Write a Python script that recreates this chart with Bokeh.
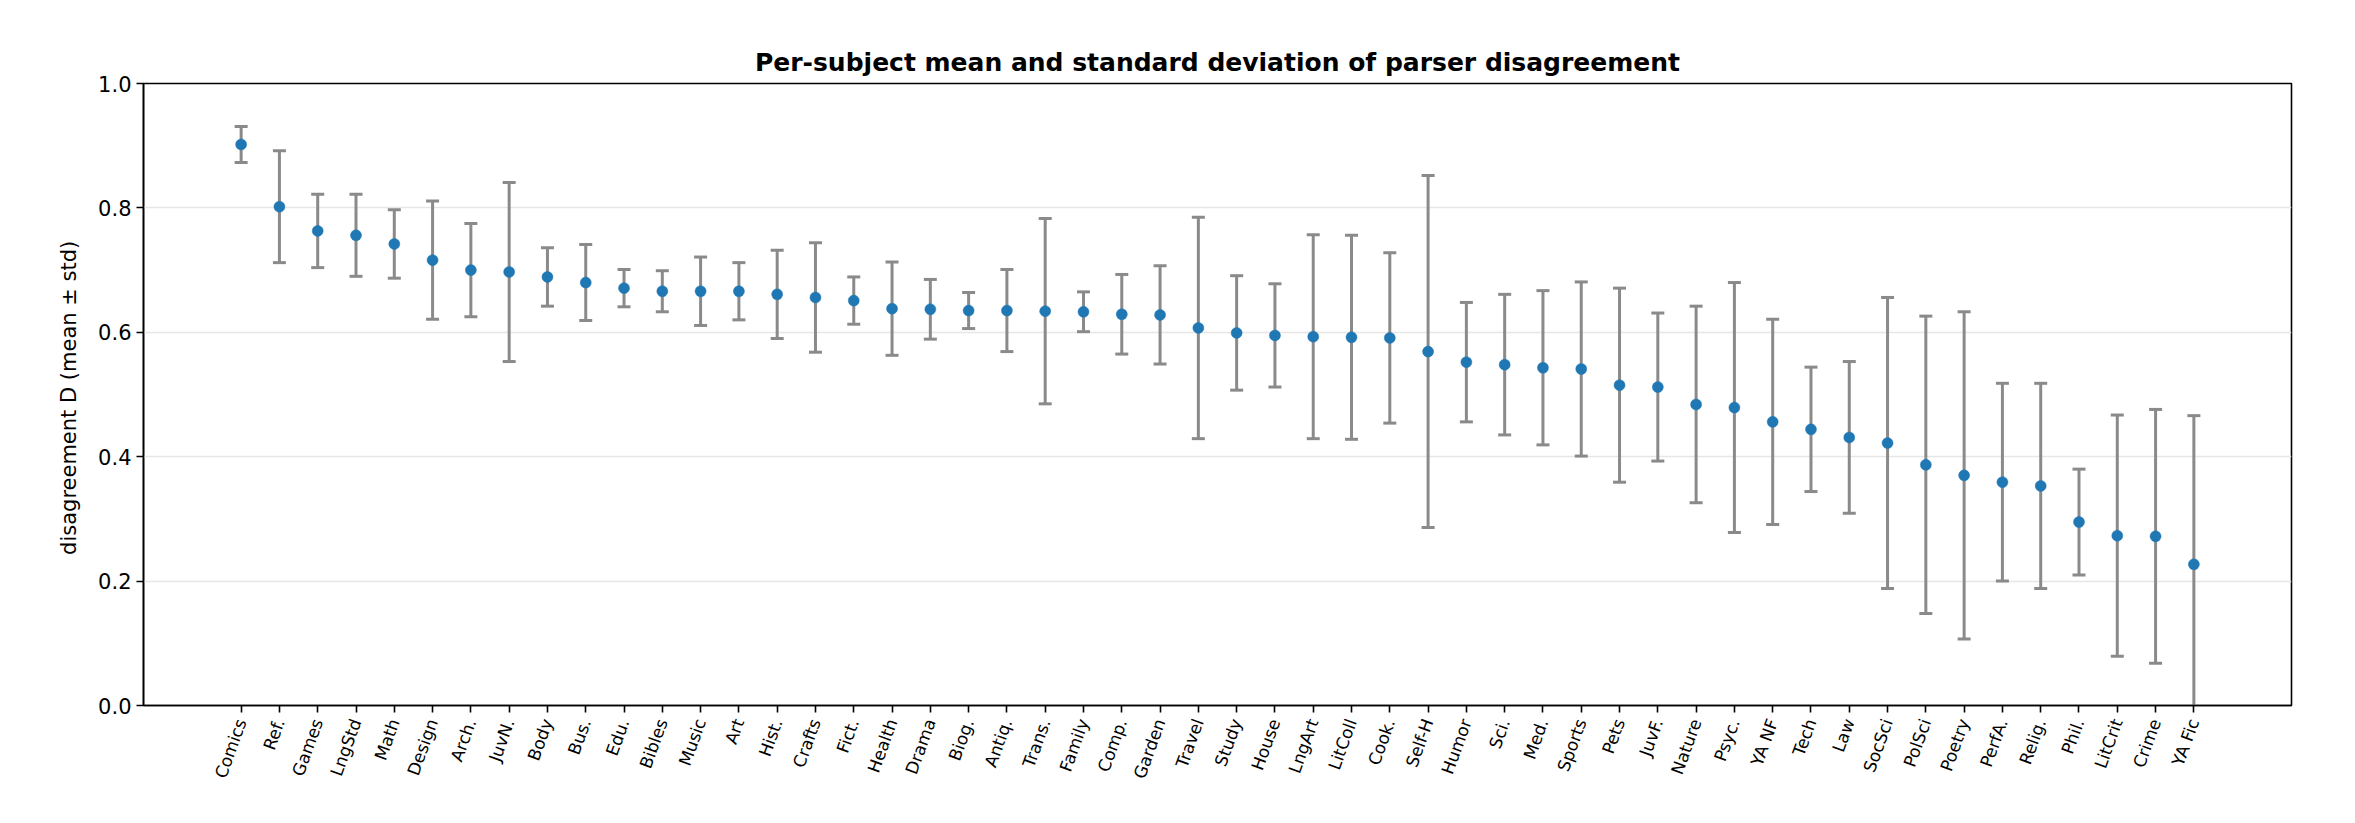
import math
from bokeh.plotting import figure
from bokeh.models import Range1d, FixedTicker, PrintfTickFormatter, ColumnDataSource
from bokeh.embed import file_html
from bokeh.resources import INLINE

subjects = ["Comics", "Ref.", "Games", "LngStd", "Math", "Design", "Arch.", "JuvN.", "Body", "Bus.",
            "Edu.", "Bibles", "Music", "Art", "Hist.", "Crafts", "Fict.", "Health", "Drama", "Biog.",
            "Antiq.", "Trans.", "Family", "Comp.", "Garden", "Travel", "Study", "House", "LngArt", "LitColl",
            "Cook.", "Self-H", "Humor", "Sci.", "Med.", "Sports", "Pets", "JuvF.", "Nature", "Psyc.",
            "YA NF", "Tech", "Law", "SocSci", "PolSci", "Poetry", "PerfA.", "Relig.", "Phil.", "LitCrit",
            "Crime", "YA Fic"]

means = [0.902, 0.802, 0.763, 0.756, 0.742, 0.716, 0.700, 0.697, 0.689, 0.680,
         0.671, 0.666, 0.666, 0.666, 0.661, 0.656, 0.651, 0.638, 0.637, 0.635,
         0.635, 0.634, 0.633, 0.629, 0.628, 0.607, 0.599, 0.595, 0.593, 0.592,
         0.591, 0.569, 0.552, 0.548, 0.543, 0.541, 0.515, 0.512, 0.484, 0.479,
         0.456, 0.444, 0.431, 0.422, 0.387, 0.370, 0.359, 0.353, 0.295, 0.273,
         0.272, 0.227]

stds = [0.029, 0.090, 0.059, 0.066, 0.055, 0.095, 0.075, 0.144, 0.047, 0.061,
        0.030, 0.033, 0.055, 0.046, 0.071, 0.088, 0.038, 0.075, 0.048, 0.029,
        0.066, 0.149, 0.032, 0.064, 0.079, 0.178, 0.092, 0.083, 0.164, 0.164,
        0.137, 0.283, 0.096, 0.113, 0.124, 0.140, 0.156, 0.119, 0.158, 0.201,
        0.165, 0.100, 0.122, 0.234, 0.239, 0.263, 0.159, 0.165, 0.085, 0.194,
        0.204, 0.239]

y_ticks = [0.0, 0.2, 0.4, 0.6, 0.8, 1.0]

title_text = "Per-subject mean and standard deviation of parser disagreement"
y_label = "disagreement D  (mean \u00b1 std)"

xs = list(range(len(subjects)))
src = ColumnDataSource(dict(
    x=xs,
    mean=means,
    upper=[m + s for m, s in zip(means, stds)],
    lower=[m - s for m, s in zip(means, stds)],
))

FONT = "DejaVu Sans"

p = figure(width=2338, height=806, output_backend="svg", toolbar_location=None,
           x_range=Range1d(-2.55, len(subjects) - 1 + 2.55), y_range=Range1d(0, 1),
           min_border_left=143, min_border_right=47, min_border_top=83, min_border_bottom=101)

p.background_fill_color = "white"
p.border_fill_color = "white"
p.outline_line_color = "black"
p.outline_line_width = 1.6

# title
p.title.text = title_text
p.title.align = "center"
p.title.text_font = FONT
p.title.text_font_style = "bold"
p.title.text_font_size = "25px"
p.title.text_color = "black"
p.title.standoff = 13

# grid
p.xgrid.visible = False
p.ygrid.ticker = FixedTicker(ticks=y_ticks)
p.ygrid.grid_line_color = "#e6e6e6"
p.ygrid.grid_line_width = 1.4

# x axis
xa = p.xaxis[0]
xa.ticker = FixedTicker(ticks=xs)
xa.major_label_overrides = {i: s for i, s in enumerate(subjects)}
xa.major_label_orientation = math.radians(70)
xa.major_label_text_font = FONT
xa.major_label_text_font_size = "17px"
xa.major_label_text_color = "black"
xa.major_label_standoff = 7
xa.major_tick_out = 7
xa.major_tick_in = 0
xa.minor_tick_out = 0
xa.minor_tick_in = 0
xa.axis_line_width = 1.6
xa.major_tick_line_width = 1.6
xa.axis_line_color = "black"

# y axis
ya = p.yaxis[0]
ya.ticker = FixedTicker(ticks=y_ticks)
ya.formatter = PrintfTickFormatter(format="%.1f")
ya.major_label_text_font = FONT
ya.major_label_text_font_size = "21px"
ya.major_label_text_color = "black"
ya.major_label_standoff = 5
ya.major_tick_out = 7
ya.major_tick_in = 0
ya.minor_tick_out = 0
ya.minor_tick_in = 0
ya.axis_line_width = 1.6
ya.major_tick_line_width = 1.6
ya.axis_line_color = "black"
ya.axis_label = y_label
ya.axis_label_text_font = FONT
ya.axis_label_text_font_style = "normal"
ya.axis_label_text_font_size = "21px"
ya.axis_label_text_color = "black"
ya.axis_label_standoff = 14

# error bars
ecol = "#8a8a8a"
p.segment(x0="x", y0="lower", x1="x", y1="upper", source=src, line_color=ecol, line_width=3)
p.scatter(x="x", y="upper", source=src, marker="dash", size=13, line_color=ecol, line_width=3)
p.scatter(x="x", y="lower", source=src, marker="dash", size=13, line_color=ecol, line_width=3)

# means
p.scatter(x="x", y="mean", source=src, marker="circle", size=11,
          fill_color="#1f77b4", line_color="#1f77b4", line_width=0.5)

open("out.html", "w").write(file_html(p, INLINE))
